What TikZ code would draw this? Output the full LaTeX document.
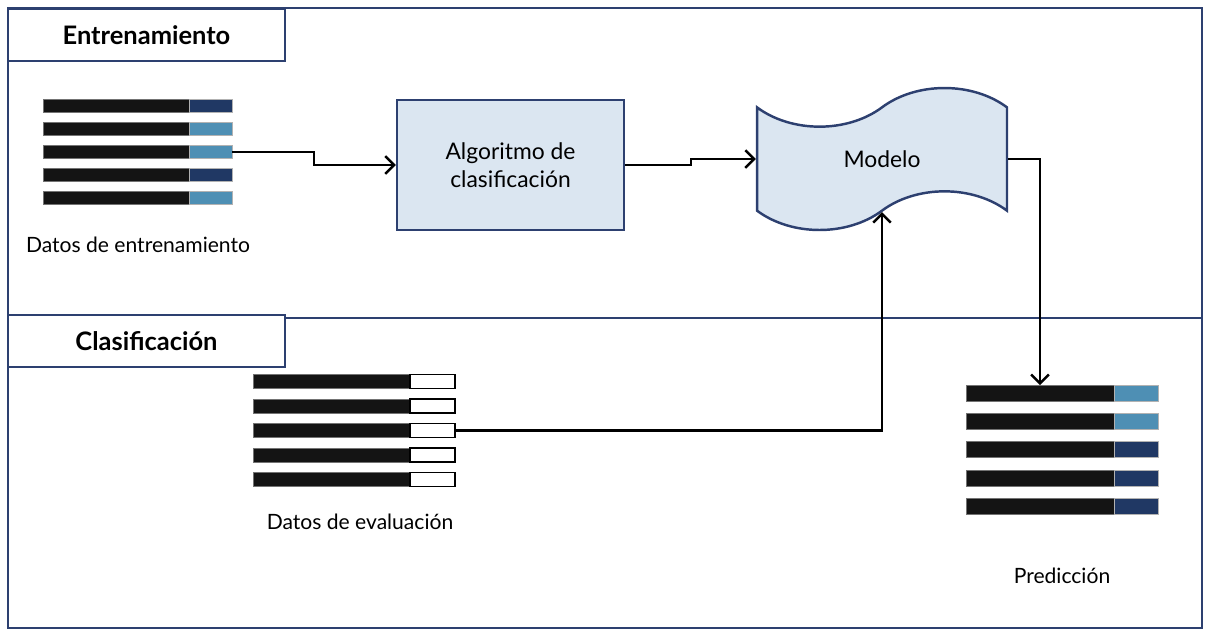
\documentclass[tikz,border=0pt]{standalone}
\usepackage{fontspec}
\setmainfont{Lato}
\usepackage{tikz}
\usetikzlibrary{positioning}
\usetikzlibrary{shapes.symbols}
\usetikzlibrary{arrows.meta}
\definecolor{frameblue}{RGB}{45,64,112}
\definecolor{boxblue}{RGB}{219,230,241}
\definecolor{bardark}{RGB}{32,56,100}
\definecolor{barlight}{RGB}{78,143,180}
\tikzset{every picture/.style={line width=1.4pt}}

\begin{document}
\begin{tikzpicture}[x=0.02cm,y=-0.02cm,font=\fontsize{12}{14}\selectfont,
  frame/.style={draw=frameblue,line width=1.4pt},
  title/.style={frame,fill=white,minimum width=5.54cm,minimum height=1.04cm,font=\fontsize{14.5}{16}\selectfont\bfseries},
  blk/.style={inner sep=0pt,outer sep=0pt,fill=black!92,draw=black!55,line width=0.5pt},
  col/.style={inner sep=0pt,outer sep=0pt,draw=black!30,line width=0.5pt},
  arr/.style={-{Straight Barb[length=5pt,width=10pt]},line width=1.4pt}]
\useasboundingbox (0,0) rectangle (1207,633);
% frames
\draw[frame] (8,8) rectangle (1202,318);
\draw[frame] (8,318) rectangle (1202,628);
\node (ent) at (146.5,35) [title] {Entrenamiento};
\node (cla) at (146.5,341) [title] {Clasificación};
% training data
\foreach \c [count=\i] in {bardark,barlight,barlight,bardark,barlight} {
\node (tb\i) at (43,106+23*\i-23) [blk,anchor=west,minimum width=2.92cm,minimum height=0.26cm] {};
\node (tc\i) [right=0pt of tb\i,col,fill=\c,minimum width=0.86cm,minimum height=0.26cm] {};
}
\node (tlab) at (138,245) {Datos de entrenamiento};
% algorithm and model
\node (algo) at (510.5,165) [frame,fill=boxblue,minimum width=4.54cm,minimum height=2.6cm,align=center,font=\fontsize{13}{16}\selectfont] {Algoritmo de\\clasificación};
\node (model) at (882,159) [tape,frame,fill=boxblue,minimum width=5cm,minimum height=2.84cm,tape bend height=22pt,font=\fontsize{13}{16}\selectfont] {Modelo};
% evaluation data
\foreach \i in {1,...,5} {
\node (eb\i) at (253,381.5+24.5*\i-24.5) [blk,anchor=west,minimum width=3.14cm,minimum height=0.28cm] {};
\node (ec\i) [right=0pt of eb\i,inner sep=0pt,outer sep=0pt,fill=white,draw=black,line width=1pt,minimum width=0.9cm,minimum height=0.28cm] {};
}
\node (elab) at (360,522) {Datos de evaluación};
% prediction
\foreach \c [count=\i] in {barlight,barlight,bardark,bardark,bardark} {
\node (pb\i) at (966,393+28.4*\i-28.4) [blk,anchor=west,minimum width=2.96cm,minimum height=0.32cm] {};
\node (pc\i) [right=0pt of pb\i,col,fill=\c,minimum width=0.88cm,minimum height=0.32cm] {};
}
\node (plab) at (1062,576) {Predicción};
% connectors
\draw[arr] (tc3.east) -- ++(82,0) |- (algo.west);
\draw[arr] (algo.east) -- ++(66,0) |- (model.west);
\draw[arr] (ec3.east) -| (model.south);
\draw[arr] (model.east) -| (pb1.north);
\end{tikzpicture}
\end{document}
